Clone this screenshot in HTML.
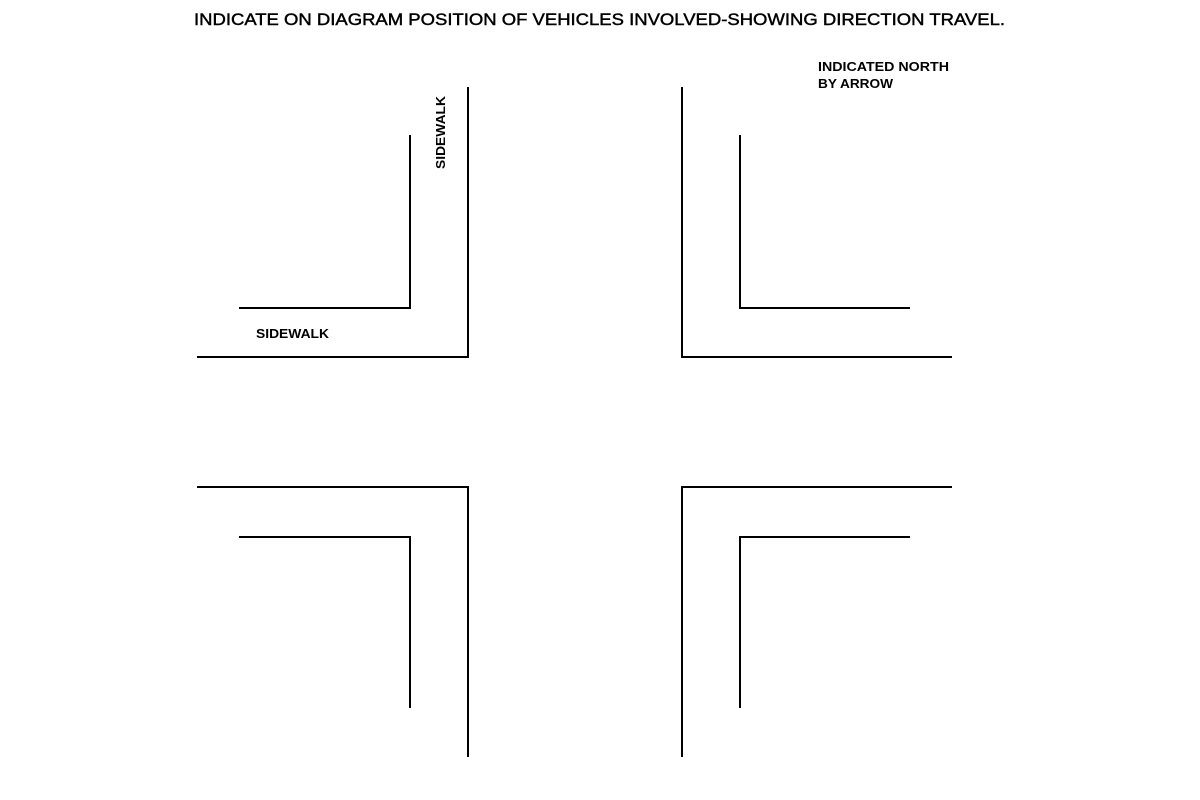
<!DOCTYPE html>
<html><head><meta charset="utf-8"><style>
html,body{margin:0;padding:0;background:#fff;width:1200px;height:800px;overflow:hidden}
text{font-family:"Liberation Sans","DejaVu Sans",sans-serif;fill:#000}
</style></head><body>
<svg width="1200" height="800" viewBox="0 0 1200 800" xmlns="http://www.w3.org/2000/svg">
<text x="194" y="25" font-size="17" stroke="#000" stroke-width="0.45" textLength="811" lengthAdjust="spacingAndGlyphs">INDICATE ON DIAGRAM POSITION OF VEHICLES INVOLVED-SHOWING DIRECTION TRAVEL.</text>
<text x="818" y="71" font-size="12.5" font-weight="bold" textLength="131" lengthAdjust="spacingAndGlyphs">INDICATED NORTH</text>
<text x="818" y="88" font-size="12.5" font-weight="bold" textLength="75" lengthAdjust="spacingAndGlyphs">BY ARROW</text>
<text x="256" y="338" font-size="12.5" font-weight="bold" textLength="73" lengthAdjust="spacingAndGlyphs">SIDEWALK</text>
<text transform="translate(445,169) rotate(-90)" x="0" y="0" font-size="12.5" font-weight="bold" textLength="73" lengthAdjust="spacingAndGlyphs">SIDEWALK</text>
<g fill="none" stroke="#000" stroke-width="2">
<polyline points="197,357 468,357 468,87"/>
<polyline points="239,308 410,308 410,135"/>
<polyline points="952,357 682,357 682,87"/>
<polyline points="910,308 740,308 740,135"/>
<polyline points="197,487 468,487 468,757"/>
<polyline points="239,537 410,537 410,708"/>
<polyline points="952,487 682,487 682,757"/>
<polyline points="910,537 740,537 740,708"/>
</g>
</svg>
</body></html>
